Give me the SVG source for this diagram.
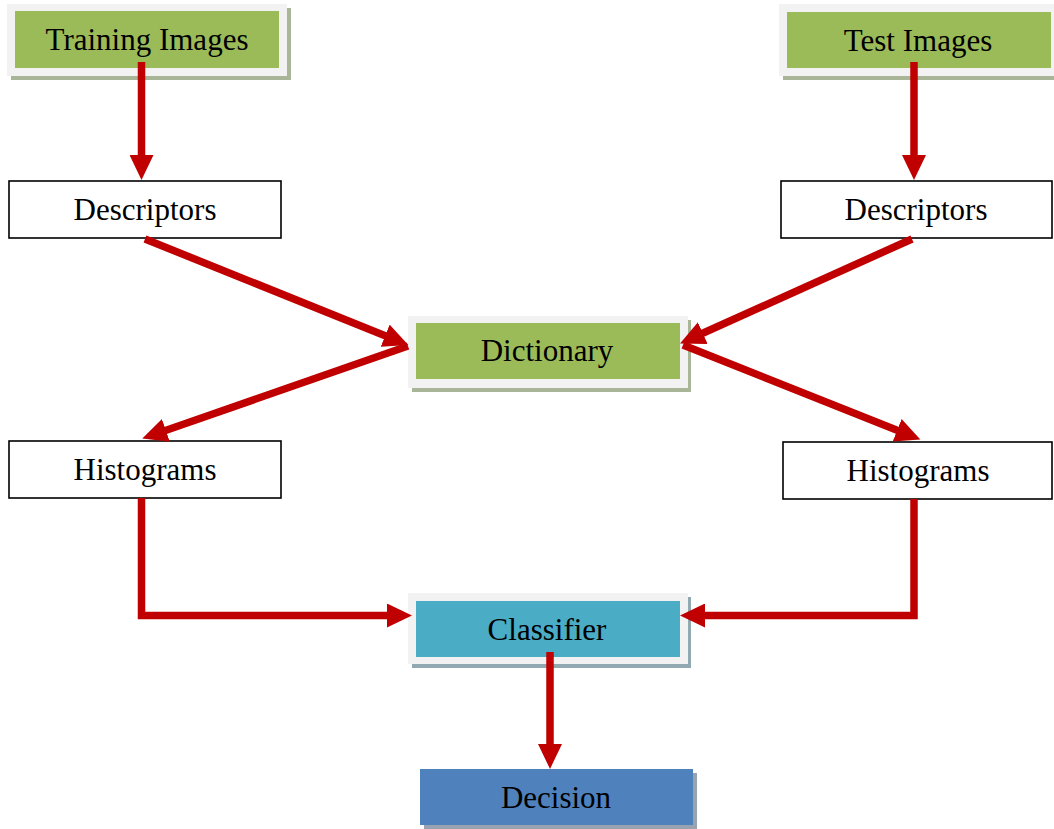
<svg xmlns="http://www.w3.org/2000/svg" width="1054" height="829" viewBox="0 0 1054 829">
<defs>
<style>
.frame{fill:#F2F2F2;}
.gshadow{fill:#A8B596;}
.bshadow{fill:#91A9B1;}
.green{fill:#9BBB59;}
.teal{fill:#4BACC6;}
.blue{fill:#4F81BD;}
.plain{fill:#FFFFFF;stroke:#000000;stroke-width:1.6;}
.lbl{font-family:"Liberation Serif","Times New Roman",serif;font-size:31px;fill:#000000;text-anchor:middle;}
.conn{fill:none;stroke:#C00000;stroke-width:7.5;stroke-linejoin:miter;}
</style>
<marker id="ah" markerUnits="userSpaceOnUse" markerWidth="26" markerHeight="24" refX="2" refY="12" orient="auto" viewBox="0 0 26 24">
<path d="M0,0 L25,12 L0,24 Z" fill="#C00000"/>
</marker>
</defs>
<rect width="1054" height="829" fill="#FFFFFF"/>

<g id="training-images">
<rect class="gshadow" x="11" y="8" width="280" height="72"/>
<rect class="frame" x="7" y="4" width="280" height="72"/>
<rect class="green" x="15" y="11" width="264" height="57"/>
<text class="lbl" x="147" y="50">Training Images</text>
</g>

<g id="test-images">
<rect class="gshadow" x="783" y="8" width="280" height="72"/>
<rect class="frame" x="779" y="4" width="280" height="72"/>
<rect class="green" x="787" y="12" width="264" height="56"/>
<text class="lbl" x="918" y="51">Test Images</text>
</g>

<g id="descriptors-left">
<rect class="plain" x="9" y="181" width="272" height="57"/>
<text class="lbl" x="145" y="220">Descriptors</text>
</g>

<g id="descriptors-right">
<rect class="plain" x="781" y="181" width="271" height="57"/>
<text class="lbl" x="916" y="220">Descriptors</text>
</g>

<g id="dictionary">
<rect class="gshadow" x="412" y="320" width="279" height="72"/>
<rect class="frame" x="408" y="316" width="280" height="72"/>
<rect class="green" x="416" y="323" width="264" height="56"/>
<text class="lbl" x="547" y="361">Dictionary</text>
</g>

<g id="histograms-left">
<rect class="plain" x="9" y="441" width="272" height="57"/>
<text class="lbl" x="145" y="480">Histograms</text>
</g>

<g id="histograms-right">
<rect class="plain" x="783" y="442" width="269" height="57"/>
<text class="lbl" x="918" y="481">Histograms</text>
</g>

<g id="classifier">
<rect class="bshadow" x="412" y="597" width="279" height="71"/>
<rect class="frame" x="408" y="593" width="280" height="71"/>
<rect class="teal" x="416" y="601" width="264" height="56"/>
<text class="lbl" x="547" y="640">Classifier</text>
</g>

<g id="decision">
<rect fill="#98A3B2" x="424" y="773" width="273" height="56"/>
<rect class="blue" x="420" y="769" width="273" height="56"/>
<text class="lbl" x="556" y="808">Decision</text>
</g>

<g id="connectors">
<path class="conn" d="M141.5,62 V157" marker-end="url(#ah)"/>
<path class="conn" d="M914,62 V157" marker-end="url(#ah)"/>
<path class="conn" d="M145,239 L387,336.5" marker-end="url(#ah)"/>
<path class="conn" d="M912,239 L701,334" marker-end="url(#ah)"/>
<path class="conn" d="M408,346 L164,431" marker-end="url(#ah)"/>
<path class="conn" d="M683,345 L899,431" marker-end="url(#ah)"/>
<path class="conn" d="M141.5,498 V615.5 H389" marker-end="url(#ah)"/>
<path class="conn" d="M914,499 V615.5 H703" marker-end="url(#ah)"/>
<path class="conn" d="M550,652 V746" marker-end="url(#ah)"/>
</g>
</svg>
